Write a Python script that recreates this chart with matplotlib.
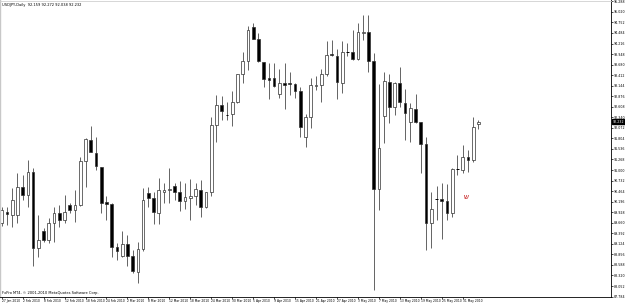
"""USDJPY daily candlestick chart, MetaTrader style."""

import matplotlib
matplotlib.use("Agg")
import matplotlib.pyplot as plt
from matplotlib.patches import Rectangle
from matplotlib.transforms import blended_transform_factory

# daily bars, 27 Jan 2010 .. early Jun 2010
opens = [89.66, 89.94, 89.86, 89.86, 90.58, 90.37, 90.95, 89.01, 89.46, 89.22,
         89.65, 89.91, 89.73, 90.10, 89.99, 90.10, 91.22, 91.77, 91.43, 91.07,
         90.18, 90.14, 89.04, 88.82, 89.12, 88.82, 88.42, 88.99, 90.41, 90.29,
         89.92, 90.45, 90.48, 90.60, 90.45, 90.22, 90.29, 90.33, 90.48, 90.05,
         90.43, 92.15, 92.66, 92.40, 92.42, 92.74, 93.44, 93.78, 94.63, 94.34,
         93.74, 93.34, 93.34, 92.94, 93.21, 93.21, 93.19, 93.00, 91.83, 92.36,
         93.14, 93.17, 93.45, 93.95, 93.91, 93.21, 94.00, 94.00, 93.82, 94.49,
         94.51, 93.78, 90.51, 92.38, 93.25, 92.59, 93.21, 92.70, 92.21, 92.56,
         92.21, 91.67, 89.66, 90.25, 90.27, 90.22, 89.90, 91.01, 91.00, 91.34,
         91.26, 92.16]
highs = [90.06, 90.07, 90.55, 90.93, 90.88, 91.26, 91.06, 89.86, 89.53, 89.78,
         90.07, 90.11, 90.37, 90.17, 90.50, 91.34, 91.82, 92.11, 91.85, 91.08,
         90.33, 90.15, 89.14, 89.44, 89.35, 88.97, 89.18, 90.54, 90.58, 90.45,
         90.79, 90.68, 91.06, 90.67, 90.71, 90.68, 90.77, 90.68, 90.75, 90.45,
         92.36, 92.91, 92.87, 92.74, 93.00, 93.45, 94.01, 94.67, 94.73, 94.48,
         93.75, 93.72, 93.73, 93.56, 93.72, 93.49, 93.20, 93.12, 92.42, 93.34,
         93.38, 93.56, 94.28, 94.31, 94.07, 94.27, 94.23, 94.55, 94.75, 94.95,
         94.95, 93.97, 93.19, 93.50, 93.45, 93.25, 93.61, 93.06, 92.70, 92.93,
         92.22, 91.85, 90.45, 90.60, 90.67, 90.65, 91.05, 91.39, 91.64, 91.51,
         92.35, 92.27]
lows = [89.58, 89.61, 89.56, 89.66, 90.24, 90.07, 88.55, 88.80, 89.18, 89.15,
        89.18, 89.56, 89.65, 89.91, 89.69, 90.08, 90.58, 91.45, 91.00, 89.90,
        89.73, 88.80, 88.72, 88.80, 88.55, 88.38, 88.12, 88.93, 90.07, 89.63,
        89.63, 90.17, 90.16, 90.24, 89.97, 90.01, 89.73, 90.11, 89.80, 90.04,
        90.33, 91.72, 92.28, 92.28, 92.11, 92.70, 93.21, 93.55, 94.32, 93.75,
        93.12, 92.80, 93.12, 92.83, 92.55, 92.91, 92.83, 91.85, 91.58, 92.06,
        93.04, 92.72, 93.38, 93.89, 92.80, 92.97, 93.89, 93.81, 93.81, 94.31,
        93.50, 87.95, 89.99, 91.68, 92.19, 92.40, 92.61, 91.77, 91.72, 92.20,
        90.92, 88.97, 89.01, 89.73, 89.24, 89.72, 89.80, 90.88, 90.93, 90.95,
        91.21, 92.04]
closes = [89.99, 89.89, 90.24, 90.58, 90.37, 90.96, 89.01, 89.22, 89.22, 89.65,
          89.91, 89.73, 89.94, 89.99, 90.10, 91.22, 91.79, 91.47, 91.11, 90.17,
          90.13, 89.05, 88.93, 89.12, 88.82, 88.44, 88.99, 90.24, 90.29, 89.94,
          90.50, 90.50, 90.52, 90.45, 90.22, 90.31, 90.34, 90.51, 90.05, 90.44,
          92.15, 92.66, 92.49, 92.42, 92.74, 93.44, 93.78, 94.56, 94.33, 93.76,
          93.31, 93.29, 93.14, 93.21, 93.16, 93.18, 93.00, 92.09, 92.36, 93.17,
          93.17, 93.45, 93.93, 93.92, 93.23, 94.00, 93.98, 93.82, 94.50, 94.51,
          93.78, 90.51, 91.56, 93.27, 92.61, 93.22, 92.72, 92.45, 92.57, 92.21,
          91.67, 89.66, 90.01, 90.27, 90.22, 89.90, 91.02, 91.02, 91.34, 91.26,
          92.10, 92.232]

date_labels = ["27 Jan 2010", "2 Feb 2010", "8 Feb 2010", "12 Feb 2010",
               "18 Feb 2010", "24 Feb 2010", "2 Mar 2010", "8 Mar 2010",
               "12 Mar 2010", "18 Mar 2010", "24 Mar 2010", "30 Mar 2010",
               "5 Apr 2010", "9 Apr 2010", "15 Apr 2010", "21 Apr 2010",
               "27 Apr 2010", "3 May 2010", "7 May 2010", "13 May 2010",
               "19 May 2010", "25 May 2010", "31 May 2010"]
label_every = 4

price_ticks = [87.784 + 0.268 * k for k in range(29)]
header = "USDJPY,Daily  92.159 92.272 92.038 92.232"
footer = "FxPro MT4, \u00a9 2001-2010 MetaQuotes Software Corp."
last_price = 92.232

# red arrow object drawn on the chart
arrow_bar = 88.6
arrow_price = 90.32

W, H = 625, 303
fig = plt.figure(figsize=(W / 100, H / 100), dpi=100)
fig.patch.set_facecolor("white")
ax = fig.add_axes([0, 6.3 / H, 611 / W, 1 - 6.8 / H])

n = len(opens)
body_w = 0.52
for i in range(n):
    o, h, l, c = opens[i], highs[i], lows[i], closes[i]
    ax.vlines(i, l, h, color="#4a4a4a", lw=0.6, zorder=1)
    lo, hi = min(o, c), max(o, c)
    if hi - lo < 0.02:
        ax.hlines((o + c) / 2, i - body_w / 2, i + body_w / 2,
                  color="black", lw=0.7, zorder=2)
        continue
    fc = "white" if c >= o else "black"
    ax.add_patch(Rectangle((i - body_w / 2, lo), body_w, hi - lo,
                           facecolor=fc, edgecolor="#303030", lw=0.5, zorder=2))

ax.text(arrow_bar, arrow_price, "\u05e9", color="#c00000", fontsize=5,
        ha="center", va="center", zorder=3)

ax.set_xlim(-0.32, 116.3)
ax.set_ylim(87.78, 95.31)

ax.yaxis.tick_right()
ax.set_yticks(price_ticks)
ax.set_yticklabels([f"{v:.3f}" for v in price_ticks])
ax.tick_params(axis="y", direction="out", length=1.5, width=0.5, pad=0.8,
               labelsize=2.3, colors="black")

xt = list(range(0, label_every * len(date_labels), label_every))
ax.set_xticks(xt)
ax.set_xticklabels(date_labels, ha="left")
ax.tick_params(axis="x", direction="out", length=1.5, width=0.5, pad=0.5,
               labelsize=2.2)

for s in ("right", "bottom"):
    ax.spines[s].set_linewidth(0.6)
    ax.spines[s].set_color("black")
ax.spines["top"].set_color("#d0d0d0")
ax.spines["top"].set_linewidth(0.6)
ax.spines["left"].set_color("#c8c8c8")
ax.spines["left"].set_linewidth(1.0)

# current price box on the price scale
tr = blended_transform_factory(ax.transAxes, ax.transData)
ax.text(1.003, last_price, f"{last_price:.3f}", transform=tr, fontsize=2.3,
        color="white", va="center", ha="left", clip_on=False,
        bbox=dict(boxstyle="square,pad=0.15", fc="black", ec="black"))

ax.text(2 / 611, 1 - 5 / 297, header, transform=ax.transAxes, fontsize=2.6,
        va="center", ha="left")
ax.text(2 / 611, 4 / 297, footer, transform=ax.transAxes, fontsize=2.6,
        va="center", ha="left")

fig.savefig("out.png", dpi=100, facecolor="white")
plt.close(fig)
